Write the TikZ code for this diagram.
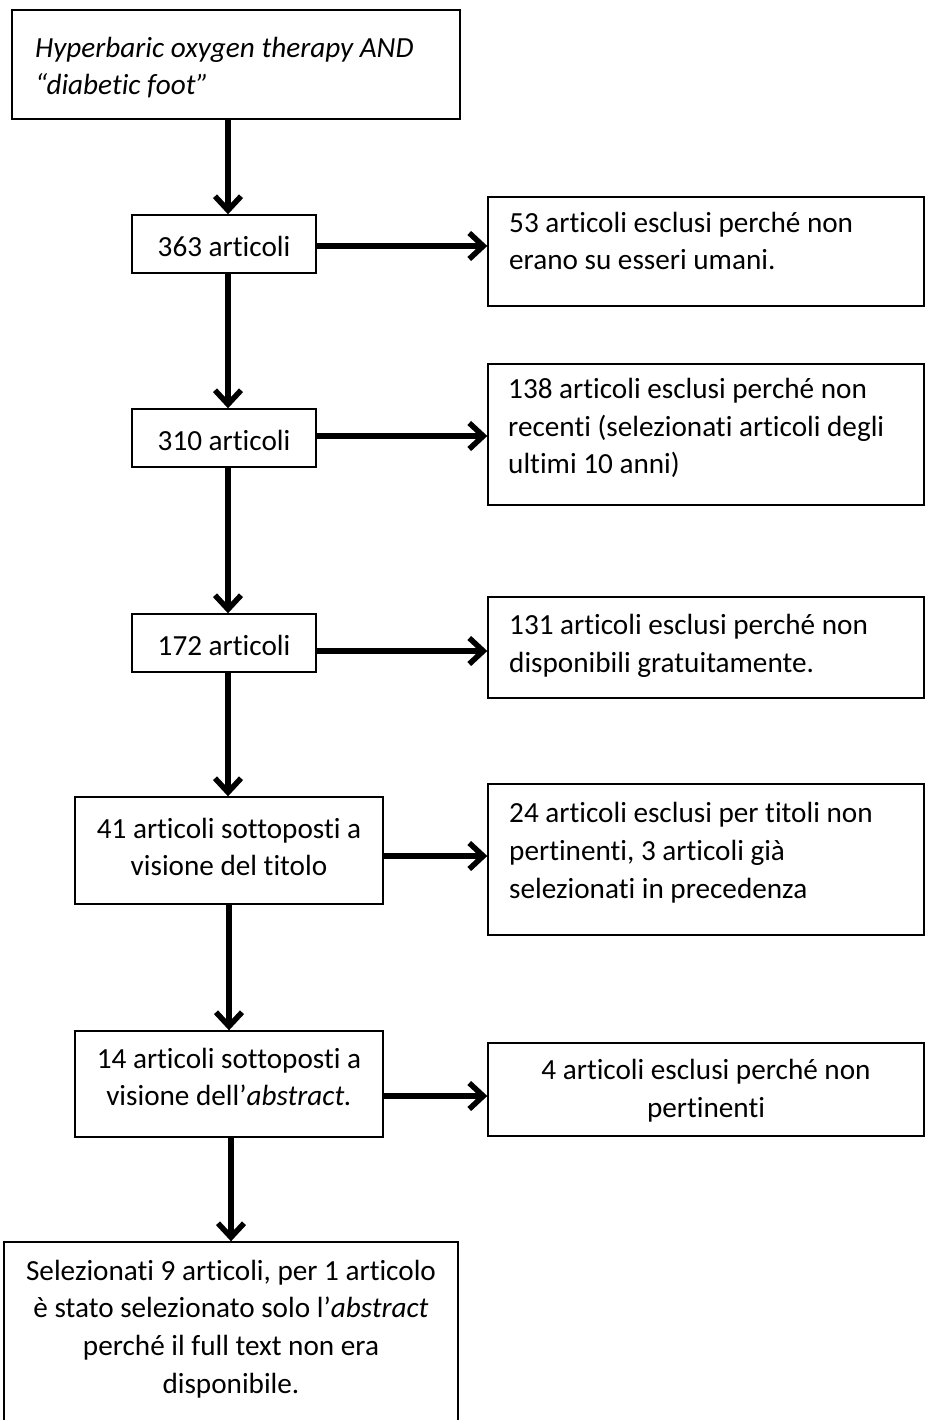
\documentclass[tikz,border=0pt]{standalone}
\usepackage{fontspec}
\setmainfont[Ligatures={NoCommon,NoContextual}]{Carlito}
\usetikzlibrary{arrows.meta}
\begin{document}
\begin{tikzpicture}[x=1pt,y=-1pt,
  every node/.style={font=\fontsize{29.2}{37.8}\selectfont},
  box/.style={draw=black, line width=1.4pt, inner sep=0pt},
  txt/.style={inner sep=0pt, align=left},
  ctxt/.style={inner sep=0pt, align=center},
  arr/.style={line width=5.5pt, -{Straight Barb[length=14pt,width=26pt]}}]
\useasboundingbox (0,0) rectangle (928,1420);
% boxes
\node[box, minimum width=448pt, minimum height=109pt] (top) at (236,64.5) {};
\node[txt, anchor=west] (ttop) at (35,67.5) {\itshape Hyperbaric oxygen therapy AND\\\itshape “diabetic foot”};
\node[box, minimum width=184pt, minimum height=58pt] (a) at (224,244) {};
\node[ctxt] (ta) at (224,246) {363 articoli};
\node[box, minimum width=436pt, minimum height=109pt] (r1) at (706,251.5) {};
\node[txt, anchor=west] (tr1) at (509,241) {53 articoli esclusi perché non\\erano su esseri umani.};
\node[box, minimum width=184pt, minimum height=58pt] (b) at (224,438) {};
\node[ctxt] (tb) at (224,440) {310 articoli};
\node[box, minimum width=436pt, minimum height=141pt] (r2) at (706,434.5) {};
\node[txt, anchor=west] (tr2) at (508,428) {138 articoli esclusi perché non\\recenti (selezionati articoli degli\\ultimi 10 anni)};
\node[box, minimum width=184pt, minimum height=58pt] (c) at (224,643) {};
\node[ctxt] (tc) at (224,645) {172 articoli};
\node[box, minimum width=436pt, minimum height=101pt] (r3) at (706,647.5) {};
\node[txt, anchor=west] (tr3) at (509,646) {131 articoli esclusi perché non\\disponibili gratuitamente.};
\node[box, minimum width=308pt, minimum height=107pt] (d) at (229,850.5) {};
\node[ctxt] (td) at (229,847) {41 articoli sottoposti a\\visione del titolo};
\node[box, minimum width=436pt, minimum height=151pt] (r4) at (706,859.5) {};
\node[txt, anchor=west] (tr4) at (509,853) {24 articoli esclusi per titoli non\\pertinenti, 3 articoli già\\selezionati in precedenza};
\node[box, minimum width=308pt, minimum height=106pt] (e) at (229,1084) {};
\node[ctxt] (te) at (229,1077) {14 articoli sottoposti a\\visione dell’\textit{abstract.}};
\node[box, minimum width=436pt, minimum height=93pt] (r5) at (706,1089.5) {};
\node[ctxt] (tr5) at (706,1091) {4 articoli esclusi perché non\\pertinenti};
\node[box, minimum width=454pt, minimum height=190pt] (f) at (231,1337) {};
\node[ctxt] (tf) at (231,1329) {Selezionati 9 articoli, per 1 articolo\\è stato selezionato solo l’\textit{abstract}\\perché il full text non era\\disponibile.};
% vertical arrows
\draw[arr] (top.south -| 228,0) -- (a.north -| 228,0);
\draw[arr] (a.south -| 228,0) -- (b.north -| 228,0);
\draw[arr] (b.south -| 228,0) -- (c.north -| 228,0);
\draw[arr] (c.south -| 228,0) -- (d.north -| 228,0);
\draw[arr] (d.south -| 229,0) -- (e.north -| 229,0);
\draw[arr] (e.south -| 231,0) -- (f.north -| 231,0);
% horizontal arrows
\draw[arr] (a.east |- 0,246) -- (r1.west |- 0,246);
\draw[arr] (b.east |- 0,436) -- (r2.west |- 0,436);
\draw[arr] (c.east |- 0,651) -- (r3.west |- 0,651);
\draw[arr] (d.east |- 0,856) -- (r4.west |- 0,856);
\draw[arr] (e.east |- 0,1096) -- (r5.west |- 0,1096);
\end{tikzpicture}
\end{document}
